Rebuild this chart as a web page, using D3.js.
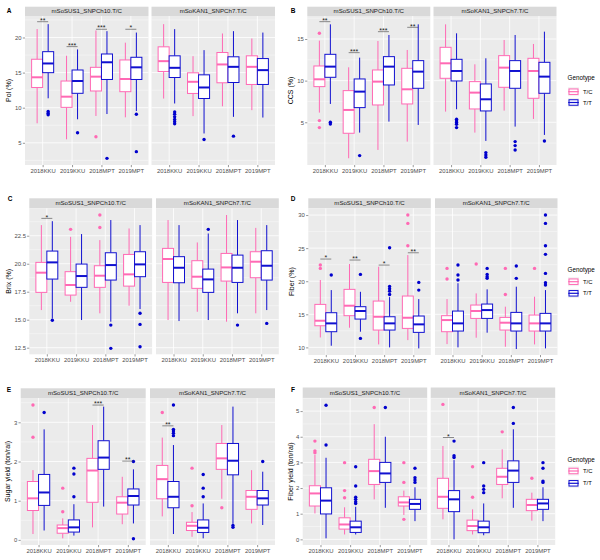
<!DOCTYPE html>
<html><head><meta charset="utf-8">
<script src="https://cdn.jsdelivr.net/npm/d3@7/dist/d3.min.js"></script>
<style>body{margin:0;background:#fff} text{font-family:"Liberation Sans",Arial,sans-serif}</style>
</head><body><svg id="c" width="600" height="560"></svg>
<script>
// ---------------- data ----------------
const sites = ["2018KKU","2019KKU","2018MPT","2019MPT"];
const markers = ["mSoSUS1_SNPCh10.T/C","mSoKAN1_SNPCh7.T/C"];
const genotypes = ["T/C","T/T"];
// box rows: [lower whisker, Q1, median, Q3, upper whisker]
// order: marker1 (site × genotype T/C,T/T), then marker2
const polBoxes = [
 [7.78,12.88,14.33,16.9,21.2],[11.34,14.99,16.3,17.98,21.9],
 [5.5,10.05,11.57,13.8,17.4],[8.35,12.05,13.8,15.37,18.3],
 [8.82,12.38,14.42,15.75,21.0],[9.1,14.02,16.47,17.65,20.9],
 [8.63,12.28,14.09,16.8,19.26],[9.53,14.02,15.75,17.18,20.7],
 [11.3,15.16,16.63,18.67,21.9],[10.6,14.3,15.68,17.39,21.19],
 [8.8,12.03,13.69,14.97,17.34],[6.33,11.31,12.88,14.68,18.2],
 [10.2,13.55,16.16,17.86,20.57],[8.7,13.59,15.82,17.25,20.9],
 [9.65,13.31,15.82,17.39,19.86],[8.6,13.31,15.35,17.0,20.7]
];
const polOutliers = [[],[9.45,9.2,8.98],[],[6.44],[5.87],[2.79],[],[9.06,3.74],
 [],[9.4,9.08,8.7,8.32,8.0,7.7],[],[5.48],[],[5.95],[],[]];
const polSig = [[0,0,22.25,"**"],[0,1,18.7,"***"],[0,2,21.17,"***"],[0,3,21.17,"*"]];
const polTicks = [5,10,15,20];

const ccsBoxes = [
 [6.16,9.28,10.16,11.76,14.8],[7.2,10.4,11.68,13.16,16.76],
 [0.68,3.68,6.48,8.8,11.6],[3.76,6.76,8.68,10.2,12.76],
 [1.68,7.08,9.88,11.28,14.76],[5.08,9.48,11.68,12.88,15.48],
 [2.68,7.2,8.96,11.48,13.68],[4.68,9.08,11.08,12.4,16.76],
 [6.28,10.28,12.08,14.0,16.76],[6.56,9.96,11.16,12.56,15.68],
 [3.76,6.6,8.56,9.88,11.96],[2.76,6.36,7.76,9.6,12.68],
 [6.4,9.2,11.56,13.0,14.88],[4.48,9.08,11.16,12.4,15.48],
 [5.4,7.88,11.16,12.68,14.4],[3.48,8.48,10.48,12.2,15.88]
];
const ccsOutliers = [[15.68,5.2,4.36],[5.0,4.8],[],[1.0],[],[],[],[],
 [],[5.36,5.16,4.96,4.76,4.36],[],[1.36,1.08,0.8],[],[2.68,2.2,1.68],[],[2.76]];
const ccsSig = [[0,0,17.08,"**"],[0,1,13.36,"***"],[0,2,15.88,"***"],[0,3,16.4,"**"]];
const ccsTicks = [5,10,15];

const brixBoxes = [
 [15.86,17.44,19.2,20.12,23.45],[15.1,18.63,20.12,21.13,23.8],
 [16.6,17.2,18.1,19.29,22.4],[14.97,17.89,18.9,19.97,22.65],
 [15.57,17.89,18.93,19.82,22.11],[14.82,18.54,19.88,20.98,23.9],
 [16.25,18.0,19.05,20.83,23.15],[15.95,18.84,19.94,21.07,23.45],
 [14.97,18.33,20.42,21.37,23.9],[14.88,18.3,19.64,20.63,23.45],
 [15.71,17.8,18.84,20.27,21.9],[14.97,17.44,18.6,19.52,22.7],
 [14.82,18.45,19.67,20.92,24.35],[15.57,18.33,19.64,20.77,23.9],
 [15.57,18.75,20.18,21.07,23.2],[15.86,18.54,19.82,21.16,23.45]
];
const brixOutliers = [[],[14.95],[23.07],[],[24.35,23.24],[14.52,12.44],[],[15.57,14.58,12.59],
 [],[],[],[23.07],[],[14.52],[],[14.67]];
const brixSig = [[0,0,24.05,"*"]];
const brixTicks = [12.5,15,17.5,20,22.5];

const fiberBoxes = [
 [11.5,13.27,14.03,16.5,20.18],[10.25,12.37,13.63,15.24,18.66],
 [12.97,14.79,16.3,18.77,22.6],[12.37,14.28,15.5,16.15,18.4],
 [10.45,12.62,14.63,17.0,22.19],[10.0,12.62,13.63,14.63,17.6],
 [11.1,12.87,14.48,17.76,23.95],[9.85,12.27,13.48,14.74,17.3],
 [10.5,12.37,14.13,14.79,17.3],[10.0,12.47,13.63,15.49,19.7],
 [11.46,14.38,15.5,16.4,18.16],[12.22,14.38,15.64,16.55,18.77],
 [10.1,12.62,13.73,14.53,16.15],[9.75,12.47,13.63,15.29,19.17],
 [10.45,12.47,13.63,14.89,17.66],[9.85,12.47,13.63,15.14,18.66]
];
const fiberOutliers = [[22.44,21.94],[20.93],[],[21.03,11.36],[],[25.06,19.2,18.85,18.5,18.0],[30.0,28.74,25.37],[19.82,18.66],
 [21.94,20.33],[22.44,20.93,20.18],[22.6],[21.94,21.03,20.68,20.43],[21.94,18.0],[22.3,20.43],[21.94],[30.0,28.74,25.37,24.06,21.18,19.77,19.42]];
const fiberSig = [[0,0,23.35,"*"],[0,1,23.2,"**"],[0,2,22.44,"*"],[0,3,24.3,"**"]];
const fiberTicks = [10,15,20,25,30];

const sugarBoxes = [
 [0.15,0.75,1.06,1.49,1.78],[0.24,0.88,1.21,1.67,2.82],
 [0.04,0.17,0.30,0.38,0.55],[0.11,0.2,0.32,0.51,0.91],
 [0.32,0.96,1.77,2.08,2.93],[0.85,1.8,2.1,2.53,3.4],
 [0.4,0.66,0.95,1.1,1.61],[0.42,0.89,1.12,1.3,1.8],
 [0.6,1.05,1.55,1.9,2.61],[0.15,0.82,1.1,1.49,2.42],
 [0.08,0.24,0.36,0.45,0.71],[0.04,0.19,0.31,0.51,0.93],
 [1.05,1.8,2.08,2.46,2.93],[0.41,1.66,2.02,2.46,3.4],
 [0.42,0.78,1.1,1.26,1.78],[0.38,0.89,1.06,1.26,1.74]
];
const sugarOutliers = [[3.44,2.62],[3.25],[1.32,0.72],[1.83,1.68,1.1],[],[],[],[2.0,0.03],
 [3.25],[3.44,2.82,2.78,2.72,2.66],[1.83,0.87],[1.67,1.32,1.1],[0.82],[0.37,0.32],[],[2.0]];
const sugarSig = [[0,2,3.44,"***"],[0,3,2.01,"**"],[1,0,2.91,"**"]];
const sugarTicks = [0,1,2,3];

const fyBoxes = [
 [1.01,1.3,1.79,2.09,3.3],[0.04,0.99,1.51,2.01,3.18],
 [0.19,0.4,0.58,0.84,1.25],[0.19,0.27,0.47,0.71,1.27],
 [1.56,2.14,2.66,3.12,4.49],[1.23,2.22,2.57,3.0,4.0],
 [0.95,1.3,1.44,1.66,1.9],[0.71,1.17,1.38,1.56,2.03],
 [0.78,1.21,1.66,2.38,3.64],[0.0,1.08,1.56,1.9,3.09],
 [0.19,0.34,0.52,0.75,1.17],[0.16,0.26,0.47,0.71,1.4],
 [1.6,2.14,2.44,2.77,3.51],[1.23,2.22,2.68,3.06,4.29],
 [0.73,1.12,1.34,1.56,1.82],[0.71,1.17,1.4,1.56,2.03]
];
const fyOutliers = [[3.83,3.45,3.38],[5.23,3.68],[2.99,1.9,1.62],[2.83,2.08,1.64,1.56,1.47,1.4],[5.14],[5.14],[2.99,2.22,0.78],[2.77,2.4,2.31,2.22],
 [5.26],[3.83,3.26,3.19],[2.83,1.64],[2.99,2.08,1.95,1.82],[4.19],[5.14,4.52],[2.38],[2.99,2.77,2.27,2.22]];
const fySig = [[1,0,3.97,"*"]];
const fyTicks = [0,1,2,3,4,5];

// ---------------- layout ----------------
const panels = [
 {id:"A",title:"Pol (%)",boxes:polBoxes,out:polOutliers,sig:polSig,ticks:polTicks,fmt:d3.format("d"),
  f1:25,f2:151.5,fw:123.5,stripTop:6.7,top:16,bottom:165,dom:[1.84,23.06],lx:9,ly:13,tx:9,legend:null},
 {id:"B",title:"CCS (%)",boxes:ccsBoxes,out:ccsOutliers,sig:ccsSig,ticks:ccsTicks,fmt:d3.format("d"),
  f1:307.3,f2:433.5,fw:123,stripTop:6.7,top:16,bottom:165,dom:[-0.13,17.76],lx:293,ly:13,tx:291,legend:{y:80,k1:91.7,k2:102.5}},
 {id:"C",title:"Brix (%)",boxes:brixBoxes,out:brixOutliers,sig:brixSig,ticks:brixTicks,fmt:d3.format(".1f"),
  f1:29.3,f2:156,fw:122.8,stripTop:198.3,top:208.3,bottom:354.3,dom:[11.91,24.95],lx:10,ly:201,tx:9,legend:null},
 {id:"D",title:"Fiber (%)",boxes:fiberBoxes,out:fiberOutliers,sig:fiberSig,ticks:fiberTicks,fmt:d3.format("d"),
  f1:308.3,f2:435,fw:122.5,stripTop:198.3,top:208.3,bottom:355,dom:[8.85,31.02],lx:293,ly:201,tx:292,legend:{y:271.5,k1:281.7,k2:293.3}},
 {id:"E",title:"Sugar yield (ton/rai)",boxes:sugarBoxes,out:sugarOutliers,sig:sugarSig,ticks:sugarTicks,fmt:d3.format("d"),
  f1:20.7,f2:150,fw:125,stripTop:388.3,top:398,bottom:545,dom:[-0.13,3.62],lx:9,ly:392,tx:8,legend:null},
 {id:"F",title:"Fiber yield (ton/rai)",boxes:fyBoxes,out:fyOutliers,sig:fySig,ticks:fyTicks,fmt:d3.format("d"),
  f1:302.7,f2:430.7,fw:124.5,stripTop:387.5,top:398,bottom:545,dom:[-0.22,5.51],lx:293,ly:392,tx:291,legend:{y:461.5,k1:471,k2:483.3}}
];

const svg = d3.select("#c");
const colors = ["#FF69B4","#1010D0"];
const outColors = ["#FF69B4","#0000CD"];

function drawPanel(p){
  const y = d3.scaleLinear().domain(p.dom).range([p.bottom,p.top]);
  const g = svg.append("g");
  g.append("text").attr("x",p.lx).attr("y",p.ly).attr("text-anchor","middle")
    .style("font-size","6.5px").style("font-weight","bold").text(p.id);
  g.append("text").attr("transform",`translate(${p.tx},${(p.top+p.bottom)/2}) rotate(-90)`)
    .attr("text-anchor","middle").attr("dy","0.35em").style("font-size","7px").attr("fill","#000").text(p.title);
  const stepT = p.ticks[1]-p.ticks[0];
  const minor = [];
  for(let v=p.ticks[0]-stepT/2; v<=p.dom[1]; v+=stepT){ if(v>=p.dom[0]) minor.push(v); }
  const majors = p.ticks.filter(v=>v>=p.dom[0]&&v<=p.dom[1]);
  markers.forEach((m,mi)=>{
    const x0 = mi===0?p.f1:p.f2;
    const x = d3.scalePoint().domain(sites).range([x0,x0+p.fw]).padding(0.6);
    const st = x.step();
    // strip
    g.append("rect").attr("x",x0).attr("y",p.stripTop).attr("width",p.fw).attr("height",p.top-p.stripTop).attr("fill","#D9D9D9");
    g.append("text").attr("x",x0+p.fw/2).attr("y",(p.stripTop+p.top)/2).attr("dy","0.35em")
      .attr("text-anchor","middle").style("font-size","6.1px").attr("fill","#1A1A1A").text(m);
    // panel bg
    g.append("rect").attr("x",x0).attr("y",p.top).attr("width",p.fw).attr("height",p.bottom-p.top).attr("fill","#EBEBEB");
    g.selectAll(null).data(minor).join("line").attr("x1",x0).attr("x2",x0+p.fw)
      .attr("y1",d=>y(d)).attr("y2",d=>y(d)).attr("stroke","#fff").attr("stroke-width",0.4);
    g.selectAll(null).data(majors).join("line").attr("x1",x0).attr("x2",x0+p.fw)
      .attr("y1",d=>y(d)).attr("y2",d=>y(d)).attr("stroke","#fff").attr("stroke-width",0.8);
    g.selectAll(null).data(sites).join("line").attr("y1",p.top).attr("y2",p.bottom)
      .attr("x1",d=>x(d)).attr("x2",d=>x(d)).attr("stroke","#fff").attr("stroke-width",0.8);
    // boxes
    sites.forEach((s,si)=>{
      genotypes.forEach((gt,gi)=>{
        const idx = mi*8+si*2+gi;
        const b = p.boxes[idx];
        const cx = x(s) + (gi===0?-1:1)*st*0.1875;
        const hw = st*0.1875;
        const col = colors[gi];
        const bg = g.append("g");
        bg.append("line").attr("x1",cx).attr("x2",cx).attr("y1",y(b[3])).attr("y2",y(b[4])).attr("stroke",col).attr("stroke-width",1);
        bg.append("line").attr("x1",cx).attr("x2",cx).attr("y1",y(b[1])).attr("y2",y(b[0])).attr("stroke",col).attr("stroke-width",1);
        bg.append("rect").attr("x",cx-hw).attr("y",y(b[3])).attr("width",hw*2).attr("height",y(b[1])-y(b[3]))
          .attr("fill","#fff").attr("stroke",col).attr("stroke-width",1);
        bg.append("line").attr("x1",cx-hw).attr("x2",cx+hw).attr("y1",y(b[2])).attr("y2",y(b[2])).attr("stroke",col).attr("stroke-width",2);
        bg.selectAll("circle").data(p.out[idx]).join("circle").attr("cx",cx).attr("cy",d=>y(d)).attr("r",1.7).attr("fill",outColors[gi]);
      });
    });
    // significance
    p.sig.filter(d=>d[0]===mi).forEach(d=>{
      const xa = x(sites[d[1]])-st*0.1875, xb = x(sites[d[1]])+st*0.1875;
      g.append("line").attr("x1",xa).attr("x2",xb).attr("y1",y(d[2])).attr("y2",y(d[2])).attr("stroke","#444").attr("stroke-width",0.6);
      g.append("text").attr("x",(xa+xb)/2).attr("y",y(d[2])+1.2).attr("text-anchor","middle")
        .style("font-size","7px").attr("fill","#222").text(d[3]);
    });
    // x axis
    const ax = g.append("g").attr("transform",`translate(0,${p.bottom})`)
      .call(d3.axisBottom(x).tickSize(2.2).tickPadding(1.2));
    ax.select(".domain").remove();
    ax.selectAll("line").attr("stroke","#333").attr("stroke-width",0.5);
    ax.selectAll("text").style("font-size","5.9px").attr("fill","#4D4D4D").style("font-family","'Liberation Sans',Arial,sans-serif");
    if(mi===0){
      const ay = g.append("g").attr("transform",`translate(${x0},0)`)
        .call(d3.axisLeft(y).tickValues(p.ticks).tickFormat(p.fmt).tickSize(2.2).tickPadding(1.2));
      ay.select(".domain").remove();
      ay.selectAll("line").attr("stroke","#333").attr("stroke-width",0.5);
      ay.selectAll("text").style("font-size","5.9px").attr("fill","#4D4D4D").style("font-family","'Liberation Sans',Arial,sans-serif");
    }
  });
  if(p.legend){
    const L = p.legend;
    g.append("text").attr("x",567.5).attr("y",L.y).style("font-size","6.3px").attr("fill","#000").text("Genotype");
    [L.k1,L.k2].forEach((ky,gi)=>{
      const kx = 569, kw = 9, kh = 5.5;
      g.append("rect").attr("x",kx-1).attr("y",ky-4.5).attr("width",kw+2).attr("height",9).attr("fill","#F2F2F2");
      g.append("line").attr("x1",kx-0.8).attr("x2",kx).attr("y1",ky).attr("y2",ky).attr("stroke",colors[gi]).attr("stroke-width",1);
      g.append("line").attr("x1",kx+kw).attr("x2",kx+kw+0.8).attr("y1",ky).attr("y2",ky).attr("stroke",colors[gi]).attr("stroke-width",1);
      g.append("rect").attr("x",kx).attr("y",ky-kh/2).attr("width",kw).attr("height",kh).attr("fill","#fff").attr("stroke",colors[gi]).attr("stroke-width",1);
      g.append("line").attr("x1",kx).attr("x2",kx+kw).attr("y1",ky).attr("y2",ky).attr("stroke",colors[gi]).attr("stroke-width",1.2);
      g.append("text").attr("x",583).attr("y",ky).attr("dy","0.35em").style("font-size","5.9px").attr("fill","#000").text(genotypes[gi]);
    });
  }
}
panels.forEach(drawPanel);
</script></body></html>
